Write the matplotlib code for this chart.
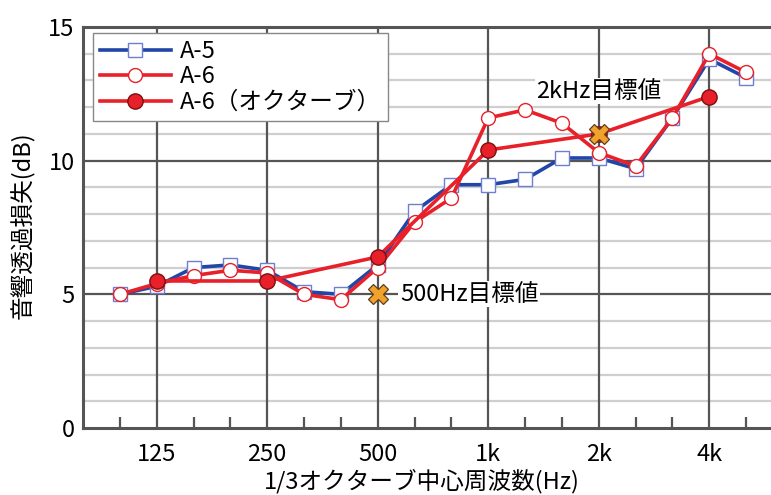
import matplotlib
matplotlib.use("Agg")
import matplotlib.pyplot as plt
from matplotlib.lines import Line2D

plt.rcParams['font.family'] = ['Noto Sans CJK JP', 'DejaVu Sans']

# 1/3-octave band centre frequencies (Hz)
bands = ["100", "125", "160", "200", "250", "315", "400", "500", "630",
         "800", "1k", "1.25k", "1.6k", "2k", "2.5k", "3.15k", "4k", "5k"]
tick_bands = ["125", "250", "500", "1k", "2k", "4k"]

# Sound transmission loss (dB), 1/3-octave bands
a5 = [5.0, 5.3, 6.0, 6.1, 5.9, 5.1, 5.0, 6.1, 8.1, 9.1, 9.1, 9.3, 10.1,
      10.1, 9.7, 11.6, 13.8, 13.1]
a6 = [5.0, 5.4, 5.7, 5.9, 5.8, 5.0, 4.8, 6.0, 7.7, 8.6, 11.6, 11.9, 11.4,
      10.3, 9.8, 11.6, 14.0, 13.3]

# Octave-band result for A-6
oct_bands = ["125", "250", "500", "1k", "2k", "4k"]
a6_oct = [5.5, 5.5, 6.4, 10.4, 11.0, 12.4]

# Target values
target_bands = ["500", "2k"]
target_vals = [5.0, 11.0]
target_labels = ["500Hz目標値", "2kHz目標値"]

W, H = 771, 495
fig = plt.figure(figsize=(W / 100, H / 100), dpi=100)
ax_left, ax_right, ax_top, ax_bottom = 83, 783, 27, 428
ax = fig.add_axes([ax_left / W, (H - ax_bottom) / H,
                   (ax_right - ax_left) / W, (ax_bottom - ax_top) / H])

idx = {b: i for i, b in enumerate(bands)}
x_all = list(range(len(bands)))
x_oct = [idx[b] for b in oct_bands]
x_tgt = [idx[b] for b in target_bands]

ax.set_xlim(-1, len(bands))
ax.set_ylim(0, 15)

# grid
for y in range(1, 15):
    major = (y % 5 == 0)
    ax.axhline(y, color="#555555" if major else "#cfcfcf",
               lw=1.6, zorder=0.6 if major else 0.5)
for b in tick_bands:
    ax.axvline(idx[b], color="#555555", lw=1.6, zorder=0.6)

blue = "#1f46a8"
red = "#e8202a"
LW = 2.6

ax.plot(x_all, a5, color=blue, lw=LW, marker="s", ms=9.5,
        mfc="white", mec="#6f7fd0", mew=1.0, zorder=3, label="A-5")
ax.plot(x_all, a6, color=red, lw=LW, marker="o", ms=10,
        mfc="white", mec=red, mew=1.0, zorder=4, label="A-6")
ax.plot(x_oct, a6_oct, color=red, lw=LW, marker="o", ms=11,
        mfc=red, mec="#7a1010", mew=1.0, zorder=5, label="A-6（オクターブ）")

# target markers
ax.plot(x_tgt, target_vals, ls="none", marker="X", ms=15,
        mfc="#f2a12a", mec="#5a4020", mew=0.9, zorder=6)

ax.text(idx["500"] + 0.6, target_vals[0], target_labels[0], fontsize=17,
        ha="left", va="center", zorder=7,
        bbox=dict(facecolor="white", edgecolor="none", pad=1.0))
ax.text(idx["2k"], 12.6, target_labels[1], fontsize=17,
        ha="center", va="center", zorder=7,
        bbox=dict(facecolor="white", edgecolor="none", pad=1.0))

# axes frame
for side in ("left", "bottom", "top"):
    ax.spines[side].set_color("#555555")
    ax.spines[side].set_linewidth(2.2)
ax.spines["right"].set_visible(False)

ax.set_yticks([0, 5, 10, 15])
ax.set_yticklabels(["0", "5", "10", "15"])
ax.set_xticks([idx[b] for b in tick_bands])
ax.set_xticklabels(tick_bands)
ax.set_xticks(x_all, minor=True)
ax.tick_params(axis="x", which="major", length=0, pad=11, labelsize=17)
ax.tick_params(axis="x", which="minor", direction="in", length=8,
               width=1.6, color="#555555", top=False)
ax.tick_params(axis="y", which="major", length=0, pad=6, labelsize=17)

fig.text(422 / W, 1 - 481 / H, "1/3オクターブ中心周波数(Hz)", fontsize=17,
         ha="center", va="center")
fig.text(23 / W, 1 - 225 / H, "音響透過損失(dB)", fontsize=17,
         ha="center", va="center", rotation=90)

handles = [
    Line2D([], [], color=blue, lw=LW, marker="s", ms=9.5, mfc="white",
           mec="#6f7fd0", mew=1.0),
    Line2D([], [], color=red, lw=LW, marker="o", ms=10, mfc="white",
           mec=red, mew=1.0),
    Line2D([], [], color=red, lw=LW, marker="o", ms=11, mfc=red,
           mec="#7a1010", mew=1.0),
]
leg = ax.legend(handles, ["A-5", "A-6", "A-6（オクターブ）"],
                loc="upper left", bbox_to_anchor=(0.0139, 0.985),
                borderaxespad=0, fontsize=17, handlelength=3.0,
                handletextpad=0.4, labelspacing=0.1, borderpad=0.3,
                fancybox=False, framealpha=1, edgecolor="#888888")
leg.get_frame().set_linewidth(1.0)
leg.set_zorder(10)

fig.savefig("out.png", dpi=100)
